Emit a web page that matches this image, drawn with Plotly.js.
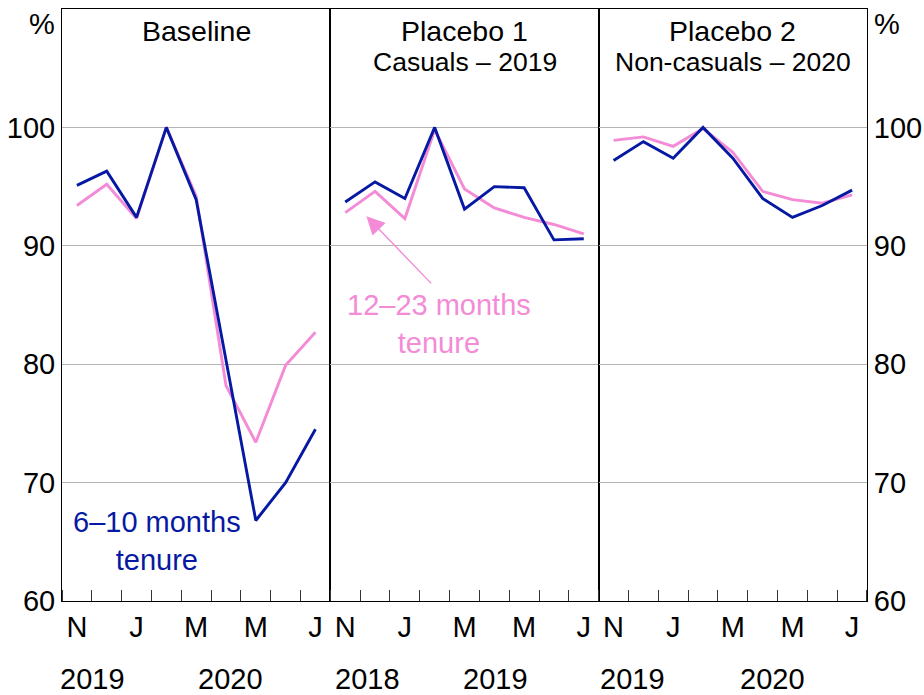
<!DOCTYPE html>
<html>
<head>
<meta charset="utf-8">
<script src="https://cdn.plot.ly/plotly-3.0.1.min.js"></script>
<style>html,body{margin:0;padding:0;background:#fff;}#chart{width:924px;height:695px;}</style>
</head>
<body>
<div id="chart"></div>
<script>
// Month categories (Nov .. Jul) for each panel
const monthLetters = ['N','D','J','F','M','A','M','J','J'];
const labelledMonths = [0, 2, 4, 6, 8];

const baselineYears = ['2019', '2020'];
const placebo1Years = ['2018', '2019'];
const placebo2Years = ['2019', '2020'];

// 6–10 months tenure (blue) and 12–23 months tenure (pink), index %
const baselineShort = [95.1, 96.3, 92.4, 100, 93.9, 80.3, 66.8, 70.0, 74.5];
const baselineLong  = [93.4, 95.2, 92.3, 100, 94.2, 78.2, 73.4, 79.9, 82.7];
const placebo1Short = [93.7, 95.4, 94.0, 100, 93.1, 95.0, 94.9, 90.5, 90.6];
const placebo1Long  = [92.8, 94.6, 92.3, 99.8, 94.8, 93.2, 92.4, 91.8, 91.0];
const placebo2Short = [97.2, 98.8, 97.4, 100, 97.4, 94.0, 92.4, 93.4, 94.7];
const placebo2Long  = [98.9, 99.2, 98.4, 99.9, 97.9, 94.6, 93.9, 93.6, 94.3];

const yTicks = [60, 70, 80, 90, 100];

const BLUE = '#0619a3';
const PINK = '#f38bd6';
const FONT = 'Liberation Sans, Arial, sans-serif';
const FS = 29;

const xIdx = monthLetters.map((_, i) => i);

function line(y, color, xa, ya) {
  return {x: xIdx, y: y, type: 'scatter', mode: 'lines', xaxis: xa, yaxis: ya,
          line: {color: color, width: 2.9}, hoverinfo: 'skip', showlegend: false};
}

const data = [
  line(baselineLong, PINK, 'x', 'y'),
  line(baselineShort, BLUE, 'x', 'y'),
  line(placebo1Long, PINK, 'x2', 'y2'),
  line(placebo1Short, BLUE, 'x2', 'y2'),
  line(placebo2Long, PINK, 'x3', 'y3'),
  line(placebo2Short, BLUE, 'x3', 'y3')
];

function xAxis(domain, anchor) {
  return {
    domain: domain, anchor: anchor, range: [-0.5, 8.5],
    tickmode: 'array', tickvals: labelledMonths,
    ticktext: labelledMonths.map(i => monthLetters[i]),
    ticks: '', ticklen: 0,
    tickfont: {family: FONT, size: FS, color: '#000'},
    showline: true, mirror: true, linecolor: '#000', linewidth: 1,
    showgrid: false, zeroline: false, fixedrange: true,
    minor: {tickmode: 'linear', tick0: -0.5, dtick: 1, ticks: 'inside',
            ticklen: 11, tickwidth: 1, tickcolor: '#333', showgrid: false}
  };
}

function yAxis(anchor, opts) {
  return Object.assign({
    anchor: anchor, range: [60, 110], tickmode: 'array', tickvals: yTicks,
    ticks: '', showgrid: true, gridcolor: '#b4b4b4', gridwidth: 1,
    showline: true, mirror: true, linecolor: '#000', linewidth: 1,
    zeroline: false, fixedrange: true,
    tickfont: {family: FONT, size: FS, color: '#000'}
  }, opts);
}

const annotations = [];
function txt(text, xref, x, yref, y, size, color, extra) {
  annotations.push(Object.assign({text: text, xref: xref, x: x, yref: yref, y: y,
    showarrow: false, font: {family: FONT, size: size, color: color || '#000'},
    xanchor: 'center', yanchor: 'middle'}, extra || {}));
}

// Panel titles
txt('Baseline', 'x', 4, 'paper', 0.962, 28.5);
txt('Placebo 1', 'x2', 4, 'paper', 0.962, 28.5);
txt('Casuals – 2019', 'x2', 4, 'paper', 0.911, 26.5);
txt('Placebo 2', 'x3', 4, 'paper', 0.962, 28.5);
txt('Non-casuals – 2020', 'x3', 4, 'paper', 0.911, 26.5);

// Unit labels
txt('%', 'paper', -0.006, 'paper', 0.975, FS, '#000', {xanchor: 'right'});
txt('%', 'paper', 1.006, 'paper', 0.975, FS, '#000', {xanchor: 'left'});

// Year labels
const yearY = -0.131;
txt(baselineYears[0], 'x', 0.52, 'paper', yearY, FS);
txt(baselineYears[1], 'x', 5.14, 'paper', yearY, FS);
txt(placebo1Years[0], 'x2', 0.73, 'paper', yearY, FS);
txt(placebo1Years[1], 'x2', 5.03, 'paper', yearY, FS);
txt(placebo2Years[0], 'x3', 0.64, 'paper', yearY, FS);
txt(placebo2Years[1], 'x3', 5.33, 'paper', yearY, FS);

// Series labels
txt('6–10 months<br>tenure', 'x', 2.69, 'y', 65.1, FS, BLUE);
txt('12–23 months<br>tenure', 'x2', 3.16, 'y2', 83.4, FS, PINK);

// Arrow
annotations.push({text: '', xref: 'x2', yref: 'y2', x: 0.71, y: 92.5,
  axref: 'x2', ayref: 'y2', ax: 2.93, ay: 86.7, showarrow: true,
  arrowhead: 2, arrowsize: 2.6, arrowwidth: 1.4, arrowcolor: PINK, standoff: 0});

const layout = {
  width: 924, height: 695,
  margin: {l: 62, r: 57, t: 9, b: 94},
  paper_bgcolor: '#fff', plot_bgcolor: '#fff',
  showlegend: false,
  font: {family: FONT, color: '#000'},
  xaxis: xAxis([0, 1/3], 'y'),
  xaxis2: xAxis([1/3, 2/3], 'y2'),
  xaxis3: xAxis([2/3, 1], 'y3'),
  yaxis: yAxis('x', {side: 'left'}),
  yaxis2: yAxis('x2', {matches: 'y', showticklabels: false}),
  yaxis3: yAxis('x3', {matches: 'y', side: 'right'}),
  annotations: annotations
};

Plotly.newPlot('chart', data, layout, {staticPlot: true, displayModeBar: false});
</script>
</body>
</html>
